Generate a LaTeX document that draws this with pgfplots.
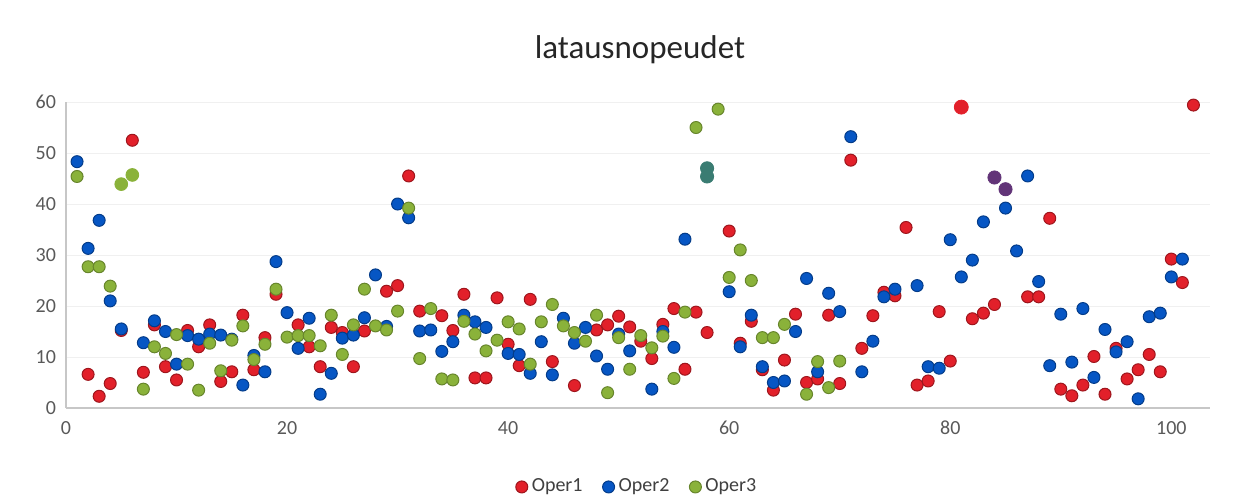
\documentclass[border=0pt]{standalone}
\usepackage{pgfplots}
\pgfplotsset{compat=1.18}
\usepackage{fontspec}
\setmainfont{Carlito}

\definecolor{opred}{RGB}{226,32,42}
\definecolor{opblue}{RGB}{6,86,196}
\definecolor{opgreen}{RGB}{138,178,58}
\definecolor{opteal}{RGB}{58,124,114}
\definecolor{oppurple}{RGB}{98,52,120}
\definecolor{ticktext}{RGB}{89,89,89}

\pgfplotstableread{
x y
2 6.6
3 2.3
4 4.8
5 15.2
6 52.5
7 7.0
8 16.3
9 8.1
10 5.5
11 15.2
12 12.0
13 16.3
14 5.2
15 7.1
16 18.2
17 7.5
18 13.8
19 22.3
21 16.3
22 12.0
23 8.1
24 15.8
25 14.8
26 8.1
27 15.1
29 22.9
30 24.0
31 45.5
32 19.0
34 18.1
35 15.2
36 22.3
37 5.9
38 5.9
39 21.6
40 12.5
41 8.3
42 21.3
44 9.1
46 4.4
48 15.3
49 16.3
50 18.0
51 15.9
52 13.1
53 9.7
54 16.4
55 19.5
56 7.6
57 18.8
58 14.8
60 34.7
61 12.7
62 17.0
63 7.5
64 3.5
65 9.4
66 18.4
67 5.0
68 5.7
69 18.2
70 4.8
71 48.6
72 11.7
73 18.1
74 22.7
75 22.0
76 35.4
77 4.5
78 5.3
79 18.9
80 9.2
82 17.5
83 18.6
84 20.3
87 21.8
88 21.8
89 37.2
90 3.7
91 2.4
92 4.5
93 10.1
94 2.7
95 11.7
96 5.7
97 7.5
98 10.5
99 7.1
100 29.2
101 24.6
102 59.4
}\operone

\pgfplotstableread{
x y
1 48.3
2 31.3
3 36.8
4 21.0
5 15.5
7 12.8
8 17.1
9 15.0
10 8.6
11 14.2
12 13.5
13 14.5
14 14.3
15 13.5
16 4.5
17 10.3
18 7.1
19 28.7
20 18.7
21 11.7
22 17.6
23 2.7
24 6.8
25 13.7
26 14.3
27 17.7
28 26.1
29 16.0
30 40.0
31 37.3
32 15.1
33 15.3
34 11.1
35 13.0
36 18.2
37 16.9
38 15.8
40 10.7
41 10.5
42 6.8
43 13.0
44 6.5
45 17.6
46 12.7
47 15.8
48 10.2
49 7.6
50 14.5
51 11.2
53 3.7
54 15.0
55 11.9
56 33.1
60 22.8
61 12.0
62 18.2
63 8.1
64 5.0
65 5.3
66 15.0
67 25.4
68 7.1
69 22.5
70 18.9
71 53.2
72 7.1
73 13.1
74 21.8
75 23.3
77 24.0
78 8.1
79 7.8
80 33.0
81 25.7
82 29.0
83 36.5
85 39.2
86 30.8
87 45.5
88 24.8
89 8.3
90 18.4
91 9.0
92 19.5
93 6.0
94 15.4
95 11.0
96 13.0
97 1.8
98 17.9
99 18.6
100 25.7
101 29.2
}\opertwo

\pgfplotstableread{
x y
1 45.4
2 27.7
3 27.7
4 23.9
7 3.7
8 12.0
9 10.7
10 14.4
11 8.6
12 3.5
13 12.7
14 7.3
15 13.3
16 16.1
17 9.5
18 12.5
19 23.3
20 13.9
21 14.2
22 14.2
23 12.2
24 18.2
25 10.5
26 16.3
27 23.3
28 16.1
29 15.3
30 19.0
31 39.2
32 9.7
33 19.5
34 5.7
35 5.5
36 17.0
37 14.5
38 11.2
39 13.3
40 16.9
41 15.5
42 8.6
43 16.9
44 20.3
45 16.1
46 14.8
47 13.1
48 18.2
49 3.0
50 13.8
51 7.6
52 14.2
53 11.8
54 14.1
55 5.8
56 18.8
57 55.0
59 58.6
60 25.6
61 31.0
62 25.0
63 13.8
64 13.8
65 16.4
67 2.7
68 9.1
69 4.0
70 9.2
}\operthree

\begin{document}
\begin{tikzpicture}
\path (0pt,0pt) rectangle (629.5pt,248.5pt);
\node[font=\fontsize{16.5}{20}\selectfont, text=black!85] at (320pt,223.5pt) {latausnopeudet};
\begin{axis}[
  at={(33pt,44.5pt)}, anchor=south west,
  scale only axis, width=572pt, height=153pt,
  xmin=0, xmax=103.5, ymin=0, ymax=60,
  xtick={0,20,...,100}, ytick={0,10,...,60},
  axis x line*=bottom, axis y line*=left,
  axis line style={draw=black!22, line width=0.8pt},
  major tick length=0pt,
  ymajorgrids, grid style={draw=black!6, line width=0.5pt},
  tick label style={font=\fontsize{10}{12}\selectfont, text=ticktext},
  /pgf/number format/assume math mode=true,
  yticklabel style={xshift=-1.5pt},
  xticklabel style={yshift=-3pt},
  legend style={at={(axis description cs:0.5,-0.258)}, anchor=center,
    draw=none, fill=none, legend columns=3,
    font=\fontsize{10}{12}\selectfont, text=black!75,
    /tikz/every even column/.append style={column sep=8pt}},
  legend image code/.code={\draw[#1] plot coordinates {(0.12cm,0cm)};},
  clip=false,
]
\addplot[only marks, mark=*, mark size=3pt,
  mark options={fill=opred, draw=opred!70!black, line width=0.5pt}]
  table[x=x, y=y] {\operone};
\addlegendentry{Oper1}
\addplot[only marks, mark=*, mark size=3pt,
  mark options={fill=opblue, draw=opblue!70!black, line width=0.5pt}]
  table[x=x, y=y] {\opertwo};
\addlegendentry{Oper2}
\addplot[only marks, mark=*, mark size=3pt,
  mark options={fill=opgreen, draw=opgreen!75!black, line width=0.5pt}]
  table[x=x, y=y] {\operthree};
\addlegendentry{Oper3}
% highlighted points
\addplot[forget plot, only marks, mark=*, mark size=3.2pt,
  mark options={fill=opgreen, draw=opgreen}]
  coordinates {(5,43.9) (6,45.7)};
\addplot[forget plot, only marks, mark=*, mark size=3.3pt,
  mark options={fill=opteal, draw=opteal}]
  coordinates {(58,47.0) (58,45.4)};
\addplot[forget plot, only marks, mark=*, mark size=3.3pt,
  mark options={fill=oppurple, draw=oppurple}]
  coordinates {(84,45.2) (85,42.9)};
\addplot[forget plot, only marks, mark=*, mark size=3.5pt,
  mark options={fill=opred, draw=opred}]
  coordinates {(81,59.0)};
\end{axis}
\end{tikzpicture}
\end{document}
